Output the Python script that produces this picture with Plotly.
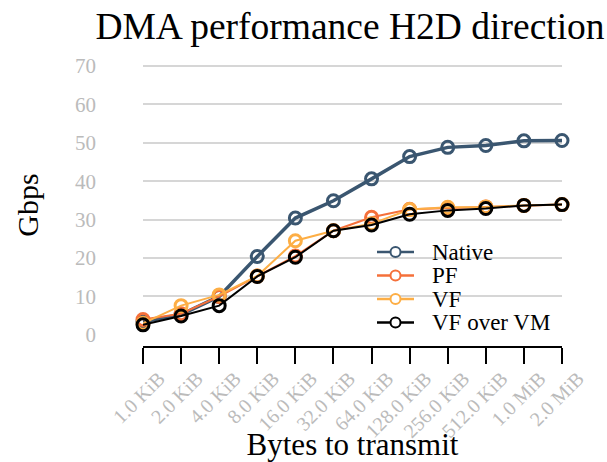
import plotly.graph_objects as go

categories = ["1.0 KiB", "2.0 KiB", "4.0 KiB", "8.0 KiB", "16.0 KiB", "32.0 KiB",
              "64.0 KiB", "128.0 KiB", "256.0 KiB", "512.0 KiB", "1.0 MiB", "2.0 MiB"]
native = [3.4, 5.3, 10.0, 20.4, 30.4, 34.9, 40.6, 46.4, 48.8, 49.3, 50.5, 50.6]
pf = [4.0, 5.5, 10.0, 15.3, 20.5, 27.1, 30.6, 32.7, 33.0, 33.3, 33.7, 33.9]
vf = [3.0, 7.6, 10.4, 15.3, 24.5, 27.1, 28.9, 32.6, 33.2, 33.3, 33.7, 33.9]
vf_vm = [2.6, 4.9, 7.6, 15.2, 20.2, 27.1, 28.6, 31.4, 32.4, 32.9, 33.7, 33.9]
y_ticks = [0, 10, 20, 30, 40, 50, 60, 70]
grid_ticks = [10, 20, 30, 40, 50, 60, 70]

FONT = "Liberation Serif"
series = [
    ("Native", native, "#3a5670", 3.5),
    ("PF", pf, "#f5703a", 2),
    ("VF", vf, "#fdae45", 2),
    ("VF over VM", vf_vm, "#000000", 2),
]

W, H = 607, 462
ML, MR, MT, MB = 143, 45, 64, 116
PW, PH = W - ML - MR, H - MT - MB

def px_x(px):
    return (px - ML) / PW

def px_y(py):
    return (H - MB - py) / PH

fig = go.Figure()
for name, vals, col, lw in series:
    fig.add_trace(go.Scatter(
        x=categories, y=vals, name=name, mode="lines+markers",
        line=dict(color=col, width=lw),
        marker=dict(symbol="circle-open", size=12, color=col, line=dict(width=3, color=col)),
        cliponaxis=False, showlegend=False,
    ))

# custom legend (keys as layout shapes, labels as annotations)
shapes = []
annotations = []
leg_rows = [252, 275.5, 299, 322.5]
for (name, vals, col, lw), py in zip(series, leg_rows):
    shapes.append(dict(type="line", xref="paper", yref="paper",
                       x0=px_x(377), x1=px_x(414), y0=px_y(py), y1=px_y(py),
                       line=dict(color=col, width=2.5)))
    shapes.append(dict(type="circle", xref="paper", yref="paper",
                       x0=px_x(390.5), x1=px_x(400.5), y0=px_y(py + 5), y1=px_y(py - 5),
                       line=dict(color=col, width=2), fillcolor="white"))
    annotations.append(dict(text=name, xref="paper", yref="paper", x=px_x(430), y=px_y(py),
                            xanchor="left", yanchor="middle", showarrow=False,
                            font=dict(size=23, family=FONT, color="black")))

yr = [-2.9, 70.5]
fig.update_layout(
    width=W, height=H,
    margin=dict(l=ML, r=MR, t=MT, b=MB),
    paper_bgcolor="white", plot_bgcolor="white",
    font=dict(family=FONT, color="black"),
    title=dict(text="DMA performance H2D direction", x=350 / W, xref="container", xanchor="center",
               y=1 - 26 / H, yanchor="middle", yref="container",
               font=dict(size=37.5, family=FONT, color="black")),
    xaxis=dict(
        type="category", range=[0, 11], showgrid=False, zeroline=False, automargin=False,
        showline=True, linecolor="black", linewidth=2,
        ticks="outside", ticklen=16, tickwidth=2, tickcolor="black",
        tickangle=-45, ticklabelshift=16, ticklabelstandoff=-5,
        tickfont=dict(size=20, color="#bbbbbb", family=FONT),
        title=dict(text="Bytes to transmit", font=dict(size=31, family=FONT, color="black"), standoff=8),
    ),
    yaxis=dict(
        range=yr, tickvals=y_ticks, showgrid=False, zeroline=False, showline=False, automargin=False,
        ticks="", ticklabelstandoff=46,
        tickfont=dict(size=21, color="#bbbbbb", family=FONT),
        title=dict(text="Gbps", font=dict(size=30, family=FONT, color="black"), standoff=27),
    ),
    yaxis2=dict(
        range=yr, overlaying="y", tickvals=grid_ticks, showgrid=True, automargin=False,
        gridcolor="#d6d6d6", gridwidth=2, showticklabels=False, zeroline=False,
        showline=False, ticks="",
    ),
    shapes=shapes,
    annotations=annotations,
    showlegend=False,
)
fig.add_trace(go.Scatter(x=[categories[0]], y=[None], yaxis="y2", showlegend=False, hoverinfo="skip"))

fig.write_html("out.html", post_script="document.body.style.margin='0';",
               config={"displayModeBar": False})
